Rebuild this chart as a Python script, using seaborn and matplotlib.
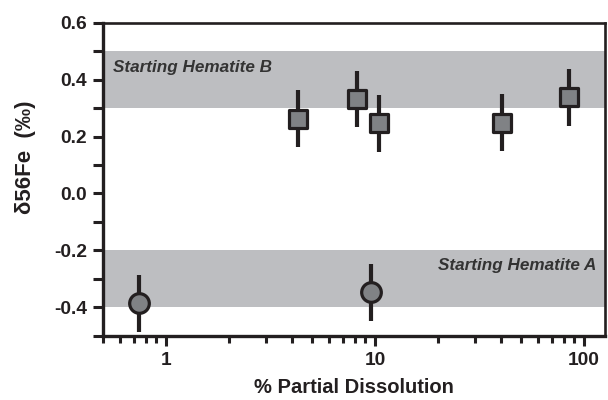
import matplotlib
matplotlib.use("Agg")
import matplotlib.pyplot as plt
import matplotlib.ticker as mticker
import seaborn as sns
import pandas as pd

# Data
sq_x = [4.3, 8.2, 10.5, 40.5, 85.0]
sq_y = [0.262, 0.332, 0.246, 0.249, 0.338]
sq_err = [0.1, 0.1, 0.1, 0.1, 0.1]
ci_x = [0.745, 9.57]
ci_y = [-0.386, -0.348]
ci_err = [0.1, 0.1]
band_b = [0.3, 0.5]
band_a = [-0.4, -0.2]
label_b = "Starting Hematite B"
label_a = "Starting Hematite A"
xticks = [1, 10, 100]
xticklabels = ["1", "10", "100"]
yticks = [-0.4, -0.2, 0.0, 0.2, 0.4, 0.6]
yticklabels = ["-0.4", "-0.2", "0.0", "0.2", "0.4", "0.6"]

df = pd.DataFrame({
    "x": sq_x + ci_x,
    "y": sq_y + ci_y,
    "err": sq_err + ci_err,
    "kind": ["sq"] * len(sq_x) + ["ci"] * len(ci_x),
})

sns.set_theme(style="ticks")
plt.rcParams["font.family"] = ["Liberation Sans", "DejaVu Sans"]

DARK = "#231f20"
fig = plt.figure(figsize=(6.08, 4.0), dpi=100)
ax = fig.add_axes([0.1694, 0.1608, 0.8256, 0.7822])

ax.set_xscale("log")
ax.set_xlim(0.5, 126)
ax.set_ylim(-0.5, 0.6)

band_col = "#bdbec1"
ax.axhspan(band_b[0], band_b[1], color=band_col, lw=0, zorder=0)
ax.axhspan(band_a[0], band_a[1], color=band_col, lw=0, zorder=0)

ax.errorbar(df["x"], df["y"], yerr=df["err"], fmt="none", ecolor=DARK,
            elinewidth=3.0, capsize=0, zorder=2)

sns.scatterplot(data=df[df.kind == "sq"], x="x", y="y", marker="s", s=160,
                color="#808285", edgecolor=DARK, linewidth=2.3, ax=ax,
                zorder=3, legend=False)
sns.scatterplot(data=df[df.kind == "ci"], x="x", y="y", marker="o", s=200,
                color="#808285", edgecolor=DARK, linewidth=2.3, ax=ax,
                zorder=3, legend=False)

ax.text(0.558, 0.444, label_b, fontsize=12.3, fontweight="bold", style="italic",
        color="#333333", ha="left", va="center")
ax.text(114.5, -0.255, label_a, fontsize=12.3, fontweight="bold", style="italic",
        color="#333333", ha="right", va="center")

ax.set_xticks(xticks)
ax.set_xticklabels(xticklabels)
ax.xaxis.set_minor_locator(mticker.LogLocator(base=10, subs=range(2, 10), numticks=20))
ax.xaxis.set_minor_formatter(mticker.NullFormatter())
ax.set_yticks(yticks)
ax.set_yticklabels(yticklabels)
ax.yaxis.set_minor_locator(mticker.FixedLocator([-0.5, -0.3, -0.1, 0.1, 0.3, 0.5]))

for lab in ax.get_xticklabels() + ax.get_yticklabels():
    lab.set_fontweight("bold")
    lab.set_fontsize(13.8)
    lab.set_color(DARK)

ax.tick_params(axis="both", which="major", direction="out", length=7, width=2.2,
               color=DARK)
ax.tick_params(axis="x", which="major", pad=5)
ax.tick_params(axis="y", which="major", pad=4.5)
ax.tick_params(axis="x", which="minor", direction="out", length=5, width=2.2, color=DARK)
ax.tick_params(axis="y", which="minor", direction="out", length=7, width=2.2, color=DARK)

for side in ["left", "bottom"]:
    ax.spines[side].set_linewidth(2.4)
    ax.spines[side].set_color(DARK)
for side in ["top", "right"]:
    ax.spines[side].set_linewidth(1.9)
    ax.spines[side].set_color(DARK)

ax.set_xlabel("% Partial Dissolution", fontsize=14.5, fontweight="bold", color=DARK,
              va="center")
ax.set_ylabel("δ56Fe  (‰)", fontsize=16, fontweight="bold", color=DARK,
              va="center")
ax.xaxis.set_label_coords(0.5, -0.167)
ax.yaxis.set_label_coords(-0.155, 0.571)

fig.savefig("out.png", dpi=100)
